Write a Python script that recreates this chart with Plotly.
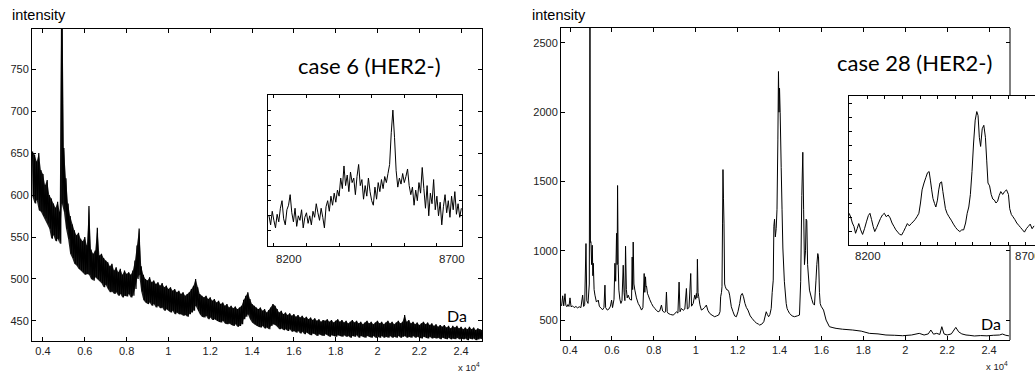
import plotly.graph_objects as go

# ---------------- data ----------------
# case 6: noisy spectrum, upper / lower extremes of the noise every 100 Da
L_START, L_STEP = 3500, 100
L_TOP = [652, 648, 640, 650, 630,
         625, 612, 618, 600, 596, 590, 585, 592, 580, 900,
         656, 620, 590, 575, 565, 558, 552, 555, 548, 545,
         550, 540, 587, 535, 530, 534, 561, 528, 530, 525,
         522, 520, 515, 518, 510, 514, 508, 512, 505, 510,
         506, 508, 505, 510, 522, 540, 560, 515, 505, 500,
         498, 502, 496, 498, 494, 496, 492, 495, 490, 492,
         488, 490, 486, 488, 484, 486, 482, 484, 480, 482,
         484, 488, 492, 500, 490, 482, 480, 478, 480, 476,
         478, 474, 476, 472, 474, 470, 472, 468, 470, 466,
         468, 465, 467, 464, 466, 468, 475, 480, 484, 476,
         470, 468, 466, 464, 466, 462, 464, 460, 463, 466,
         470, 468, 464, 460, 462, 458, 460, 457, 459, 456,
         458, 455, 457, 454, 456, 453, 455, 452, 454, 451,
         453, 450, 452, 449, 451, 450, 452, 449, 451, 448,
         450, 452, 449, 451, 448, 450, 447, 449, 451, 448,
         450, 447, 449, 446, 448, 450, 447, 449, 446, 448,
         450, 447, 449, 446, 448, 450, 447, 449, 446, 448,
         450, 447, 449, 457, 449, 451, 447, 449, 446, 448,
         445, 447, 449, 446, 448, 445, 447, 444, 446, 443,
         445, 443, 445, 442, 444, 441, 444, 442, 444, 441,
         443, 440, 442, 440, 443, 440, 442, 439, 441, 440,
         439]
L_BOT = [598, 590, 594, 582, 580,
         575, 572, 566, 560, 548, 552, 545, 548, 542, 590,
         580, 560, 548, 530, 525, 518, 516, 512, 510, 508,
         505, 506, 505, 500, 498, 502, 500, 498, 495, 490,
         493, 488, 484, 485, 482, 484, 480, 482, 478, 480,
         479, 482, 478, 480, 488, 500, 505, 485, 475, 472,
         470, 472, 468, 470, 466, 468, 465, 466, 462, 464,
         462, 460, 462, 458, 460, 458, 458, 456, 457, 455,
         458, 460, 462, 468, 462, 458, 455, 454, 456, 452,
         454, 451, 452, 450, 449, 448, 450, 447, 446, 447,
         445, 444, 446, 443, 444, 446, 452, 455, 458, 452,
         448, 446, 444, 443, 442, 444, 441, 442, 440, 444,
         446, 445, 443, 440, 441, 439, 440, 438, 440, 437,
         438, 436, 438, 435, 437, 434, 436, 434, 433, 435,
         434, 432, 434, 433, 432, 434, 433, 431, 433, 432,
         431, 433, 432, 431, 433, 431, 432, 430, 432, 431,
         433, 430, 432, 431, 430, 432, 431, 430, 432, 430,
         431, 430, 432, 430, 431, 430, 432, 430, 431, 430,
         432, 430, 431, 432, 430, 431, 430, 432, 430, 431,
         430, 429, 431, 430, 429, 431, 429, 430, 429, 430,
         428, 430, 429, 428, 430, 428, 429, 428, 430, 428,
         429, 428, 429, 427, 429, 428, 429, 427, 428, 429,
         428]

# case 6 inset (8185..8775 Da, every 5 Da)
I6_START, I6_STEP = 8185, 5
I6_INT = [490, 484, 493, 487, 482, 491, 486, 495, 500, 488,
          484, 494, 497, 504, 492, 486, 495, 483, 490, 487,
          494, 482, 489, 492, 485, 490, 484, 493, 489, 498,
          492, 487, 495, 489, 482, 496, 500, 493, 503, 497,
          505, 499, 507, 503, 515, 508, 523, 510, 517, 506,
          519, 512, 515, 504, 516, 524, 510, 514, 501, 510,
          503, 515, 506, 500, 497, 509, 501, 512, 506, 514,
          508, 516, 512, 518, 524, 545, 560, 542, 520, 509,
          515, 511, 518, 512, 516, 521, 510, 504, 509, 497,
          507, 500, 512, 505, 522, 508, 495, 510, 490, 505,
          498, 514, 494, 503, 490, 499, 484, 496, 504, 492,
          500, 489, 503, 494, 506, 491, 498, 489, 495]

# case 28 spectrum
R_MZ = [3560, 3600, 3650, 3700, 3762, 3800, 3850, 3900, 3950, 4000,
        4050, 4120, 4200, 4280, 4360, 4440, 4520, 4603, 4650, 4700,
        4762, 4800, 4860, 4920, 4952, 4975, 5000, 5030, 5063, 5090,
        5111, 5150, 5190, 5260, 5349, 5400, 5480, 5560, 5620, 5667,
        5700, 5780, 5860, 5930, 5984, 6030, 6100, 6143, 6180, 6222,
        6250, 6270, 6300, 6333, 6380, 6429, 6480, 6540, 6580, 6620,
        6651, 6690, 6730, 6778, 6850, 6937, 6968, 6990, 7016, 7050,
        7095, 7170, 7254, 7330, 7413, 7480, 7540, 7570, 7603, 7630,
        7651, 7700, 7730, 7800, 7889, 7960, 8048, 8120, 8206, 8280,
        8365, 8420, 8500, 8560, 8603, 8640, 8683, 8800, 8921, 9000,
        9080, 9150, 9206, 9250, 9318, 9400, 9480, 9556, 9600, 9680,
        9762, 9800, 9880, 9952, 10000, 10032, 10060, 10080, 10110, 10143,
        10200, 10270, 10350, 10420, 10508, 10580, 10667, 10780, 10905, 11000,
        11095, 11160, 11191, 11230, 11254, 11280, 11301, 11325, 11349, 11380,
        11413, 11470, 11540, 11580, 11619, 11699, 11780, 11857, 11940, 12016,
        12100, 12160, 12222, 12280, 12350, 12420, 12492, 12600, 12700, 12810,
        12900, 13000, 13048, 13150, 13250, 13365, 13420, 13480, 13540, 13603,
        13650, 13700, 13730, 13762, 13800, 13841, 13880, 13921, 13950, 13975,
        14000, 14030, 14080, 14120, 14159, 14230, 14318, 14360, 14400, 14476,
        14600, 14714, 14850, 14952, 15010, 15063, 15111, 15150, 15190, 15240,
        15270, 15302, 15340, 15429, 15540, 15600, 15667, 15740, 15780, 15826,
        15860, 15905, 15940, 15984, 16100, 16222, 16381, 16550, 16698, 17000,
        17492, 17900, 18286, 18700, 19079, 19500, 19873, 20300, 20667, 20900,
        21100, 21222, 21350, 21500, 21650, 21746, 21850, 22000, 22200, 22413,
        22550, 22700, 22900, 23048, 23300, 23600, 23900, 24200, 24500, 24635,
        24800, 24950]
R_INT = [612, 604, 675, 602, 690, 608, 596, 612, 598, 660,
         596, 602, 590, 598, 588, 596, 590, 680, 598, 610,
         1052, 640, 620, 760, 2700, 1060, 1065, 900, 1040, 820,
         910, 720, 680, 630, 644, 600, 585, 575, 590, 752,
         590, 572, 580, 600, 644, 590, 650, 910, 780, 1126,
         900, 1471, 900, 716, 650, 620, 640, 896, 700, 640,
         1033, 720, 660, 680, 650, 644, 955, 720, 1063, 760,
         716, 660, 620, 600, 572, 590, 836, 700, 812, 740,
         745, 690, 680, 650, 620, 600, 584, 570, 560, 565,
         608, 565, 556, 560, 702, 560, 548, 540, 536, 545,
         560, 550, 774, 560, 584, 570, 580, 728, 580, 590,
         836, 600, 620, 680, 650, 692, 660, 939, 700, 668,
         610, 572, 580, 590, 608, 570, 548, 535, 524, 530,
         536, 560, 668, 700, 740, 1200, 1586, 1375, 1200, 760,
         740, 720, 716, 704, 680, 596, 560, 530, 524, 560,
         620, 680, 692, 668, 620, 590, 572, 530, 510, 490,
         478, 470, 464, 470, 488, 560, 540, 524, 540, 584,
         700, 788, 1177, 1228, 1100, 1160, 1300, 1800, 2294, 2000,
         2174, 2000, 1600, 1300, 1020, 780, 620, 584, 570, 548,
         530, 524, 530, 536, 780, 1400, 1711, 1300, 900, 1000,
         1228, 1217, 900, 716, 650, 620, 608, 788, 900, 980,
         956, 700, 620, 600, 572, 500, 452, 445, 440, 434,
         428, 420, 404, 400, 392, 390, 387, 392, 404, 392,
         400, 428, 398, 404, 396, 452, 400, 392, 400, 447,
         415, 400, 392, 390, 385, 388, 386, 390, 392, 399,
         390, 386]

# case 28 inset
I28_MZ = [8188, 8193, 8198, 8203, 8208, 8213, 8218, 8224, 8230, 8236,
          8242, 8248, 8253, 8258, 8263, 8268, 8274, 8280, 8286, 8292,
          8298, 8304, 8310, 8316, 8322, 8328, 8334, 8340, 8346, 8352,
          8358, 8364, 8370, 8376, 8382, 8388, 8394, 8400, 8406, 8411,
          8416, 8422, 8428, 8433, 8438, 8442, 8446, 8450, 8455, 8459,
          8464, 8468, 8472, 8477, 8481, 8485, 8489, 8494, 8500, 8507,
          8514, 8521, 8527, 8534, 8540, 8546, 8552, 8557, 8562, 8567,
          8572, 8577, 8582, 8587, 8591, 8595, 8599, 8604, 8609, 8614,
          8618, 8622, 8627, 8632, 8637, 8642, 8647, 8652, 8657, 8662,
          8668, 8674, 8680, 8686, 8690, 8695, 8700, 8706, 8712, 8718,
          8724, 8730, 8736, 8742, 8748, 8754, 8760, 8766]
I28_INT = [607, 600, 590, 584, 572, 580, 589, 578, 570, 580,
           592, 603, 607, 596, 584, 575, 582, 590, 598, 604,
           607, 601, 604, 599, 590, 584, 578, 574, 570, 569,
           575, 582, 589, 585, 589, 592, 596, 601, 607, 625,
           648, 660, 670, 678, 680, 665, 648, 633, 624, 618,
           630, 648, 660, 662, 645, 630, 615, 607, 601, 595,
           588, 582, 578, 575, 578, 578, 590, 607, 618, 640,
           680, 730, 770, 785, 778, 740, 724, 755, 761, 740,
           700, 660, 655, 640, 632, 630, 625, 628, 638, 645,
           640, 645, 648, 640, 615, 605, 601, 596, 590, 586,
           582, 578, 574, 580, 584, 588, 580, 585]

# tick labels
L_YTICKS = [450, 500, 550, 600, 650, 700, 750]
R_YTICKS = [500, 1000, 1500, 2000, 2500]
XTICK_VALS = [4000, 6000, 8000, 10000, 12000, 14000, 16000, 18000, 20000, 22000, 24000]
XTICK_TEXT = ["0.4", "0.6", "0.8", "1", "1.2", "1.4", "1.6", "1.8", "2", "2.2", "2.4"]

# ---------------- figure ----------------
W, H = 1035, 373
def fx(px): return px / W
def fy(py): return 1 - py / H

env_x = [L_START + i * L_STEP for i in range(len(L_TOP))]
left_x, left_y = [], []
for i, (t, b) in enumerate(zip(L_TOP, L_BOT)):
    mz = L_START + i * L_STEP
    left_x += [mz, mz + L_STEP / 2]
    left_y += [t, b]
i6_x = [I6_START + i * I6_STEP for i in range(len(I6_INT))]

line = dict(color="black", width=1, simplify=False)
fig = go.Figure()
# solid body of the noise band (between lower and upper extremes)
fig.add_trace(go.Scatter(x=env_x, y=L_BOT, mode="lines", line=dict(width=0, color="black"),
                         xaxis="x", yaxis="y", hoverinfo="skip"))
fig.add_trace(go.Scatter(x=env_x, y=L_TOP, mode="lines", line=dict(width=0, color="black"),
                         fill="tonexty", fillcolor="rgba(0,0,0,0.88)", xaxis="x", yaxis="y",
                         hoverinfo="skip"))
fig.add_trace(go.Scatter(x=left_x, y=left_y, mode="lines",
                         line=dict(color="black", width=1.2, simplify=False), xaxis="x", yaxis="y"))
fig.add_trace(go.Scatter(x=R_MZ, y=R_INT, mode="lines", line=line, xaxis="x2", yaxis="y2"))
fig.add_trace(go.Scatter(x=i6_x, y=I6_INT, mode="lines", line=line, xaxis="x3", yaxis="y3"))
fig.add_trace(go.Scatter(x=I28_MZ, y=I28_INT, mode="lines", line=line, xaxis="x4", yaxis="y4"))
fig.add_trace(go.Scatter(x=[None], y=[None], mode="lines", xaxis="x2", yaxis="y5", hoverinfo="skip"))

tickfont = dict(family="Liberation Sans, Arial", size=11, color="#222")
common = dict(showgrid=False, zeroline=False, showline=True, linecolor="black", linewidth=1,
              ticks="inside", ticklen=4, tickcolor="black", tickwidth=1, tickfont=tickfont)
inset = dict(showgrid=False, zeroline=False, showline=True, linecolor="black", linewidth=1,
             ticks="inside", ticklen=3, tickcolor="black", tickwidth=1, showticklabels=False)

fig.update_layout(
    width=W, height=H, margin=dict(l=0, r=0, t=0, b=0),
    paper_bgcolor="white", plot_bgcolor="white", showlegend=False,
    xaxis=dict(domain=[fx(32), fx(482)], range=[3475, 25000], anchor="y", mirror="ticks",
               tickmode="array", tickvals=XTICK_VALS, ticktext=XTICK_TEXT, **common),
    yaxis=dict(domain=[fy(341), fy(29)], range=[426, 798], anchor="x", mirror="ticks",
               tickmode="array", tickvals=L_YTICKS, **common),
    xaxis2=dict(domain=[fx(561), fx(1010)], range=[3570, 25000], anchor="y2", mirror="ticks",
                tickmode="array", tickvals=XTICK_VALS, ticktext=XTICK_TEXT, **common),
    yaxis2=dict(domain=[fy(340), fy(28)], range=[356, 2608], anchor="x2", mirror=False,
                tickmode="array", tickvals=R_YTICKS, **common),
    yaxis5=dict(overlaying="y2", side="right", anchor="x2", range=[356, 2608], showline=False,
                showgrid=False, zeroline=False, ticks="inside", ticklen=4, tickcolor="black",
                tickmode="array", tickvals=[500, 1000, 2500], showticklabels=False),
    xaxis3=dict(domain=[fx(268), fx(462)], range=[8182, 8777], anchor="y3", mirror="ticks",
                tick0=8200, dtick=100, **inset),
    yaxis3=dict(domain=[fy(246), fy(95)], range=[470, 570], anchor="x3", mirror="ticks",
                tick0=470, dtick=10, **inset),
    xaxis4=dict(domain=[fx(849), 1.0], range=[8187.5, 8769], anchor="y4", mirror="ticks",
                tick0=8190, dtick=55, **inset),
    yaxis4=dict(domain=[fy(245), fy(96)], range=[551.5, 812.25], anchor="x4", mirror=False,
                tick0=575, dtick=25, **inset),
)

# right border of case-28 panel, interrupted by the inset
for y0, y1 in [(fy(96), fy(28)), (fy(340), fy(245))]:
    fig.add_shape(type="line", xref="x2 domain", yref="paper", x0=1, x1=1, y0=y0, y1=y1,
                  line=dict(color="black", width=1))

lab = dict(family="Liberation Sans, Arial", size=14.5, color="black")
big = dict(family="Lato, Open Sans", size=22, color="black")
da = dict(family="Lato, Open Sans", size=16, color="black")
small = dict(family="Liberation Sans, Arial", size=9.5, color="#222")
ins = dict(family="Liberation Sans, Arial", size=11.5, color="#222")
ann = [
    dict(x=fx(10), y=fy(15), text="intensity", font=lab, xanchor="left"),
    dict(x=fx(530), y=fy(15), text="intensity", font=lab, xanchor="left"),
    dict(x=fx(369), y=fy(65), text="case 6 (HER2-)", font=big, xanchor="center"),
    dict(x=fx(914), y=fy(62), text="case 28 (HER2-)", font=big, xanchor="center"),
    dict(x=fx(457), y=fy(315), text="Da", font=da, xanchor="center"),
    dict(x=fx(991), y=fy(323), text="Da", font=da, xanchor="center"),
    dict(x=fx(482), y=fy(367), text="x 10<sup>4</sup>", font=small, xanchor="right"),
    dict(x=fx(1010), y=fy(366), text="x 10<sup>4</sup>", font=small, xanchor="right"),
]
for a in ann:
    fig.add_annotation(xref="paper", yref="paper", showarrow=False, yanchor="middle", **a)
for xr, xv, py in [("x3", 8200, 259), ("x3", 8700, 259), ("x4", 8200, 256), ("x4", 8700, 256)]:
    fig.add_annotation(xref=xr, yref="paper", x=xv, y=fy(py), text=str(xv), font=ins,
                       showarrow=False, xanchor="left", yanchor="middle")

fig.write_html("out.html")
